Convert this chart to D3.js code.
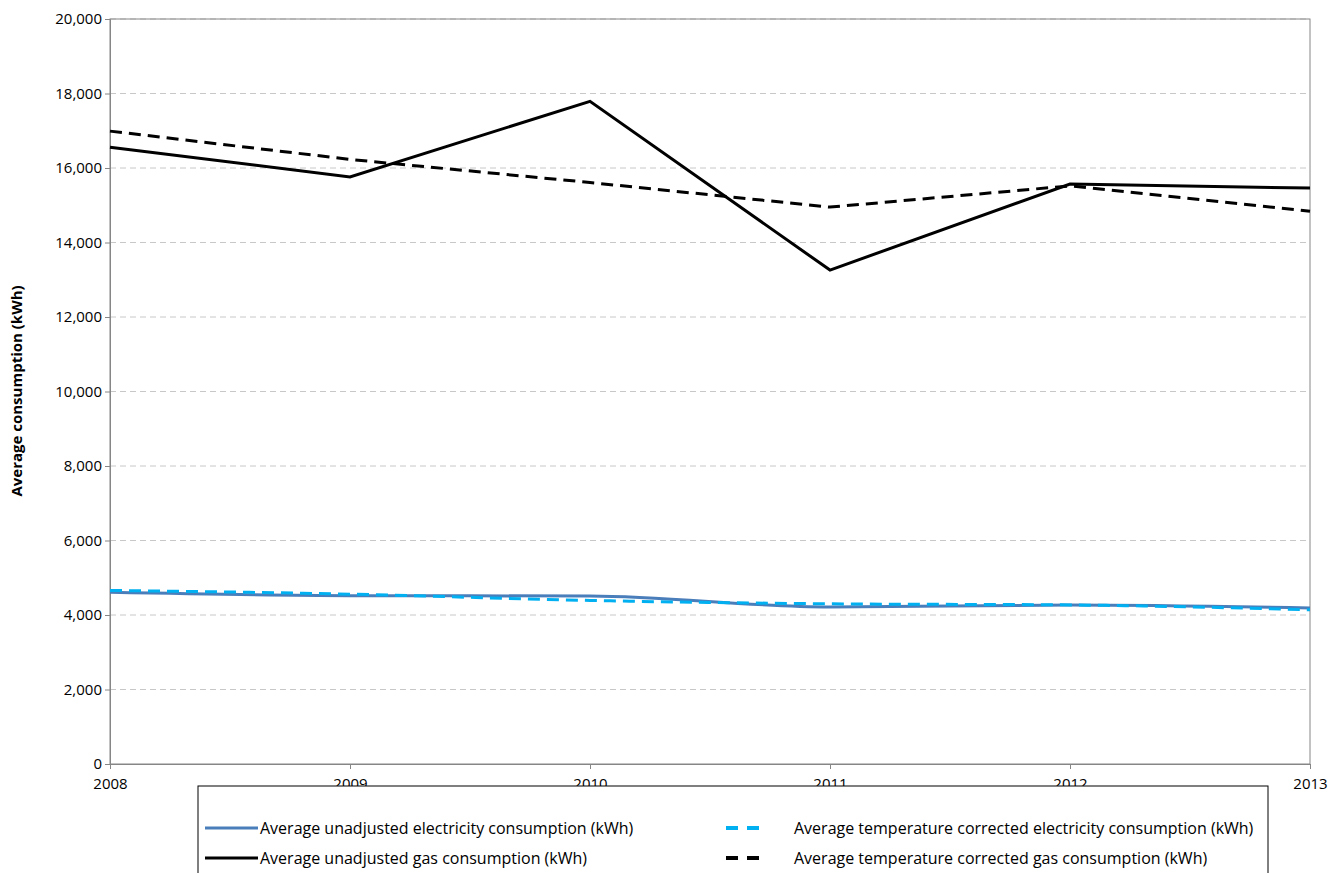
<!DOCTYPE html>
<html><head><meta charset="utf-8">
<script src="https://cdn.jsdelivr.net/npm/d3@7"></script>
<style>body{margin:0;background:#fff;font-family:"Open Sans",Arial,sans-serif;}</style>
</head><body><svg id="chart" width="1341" height="873"></svg>
<script>
var years = [2008, 2009, 2010, 2011, 2012, 2013];
var elecUnadjusted = [4610, 4520, 4510, 4215, 4270, 4190];
var elecCorrected = [4660, 4560, 4390, 4300, 4270, 4140];
var gasUnadjusted = [16560, 15760, 17790, 13260, 15570, 15460];
var gasCorrected = [16990, 16230, 15610, 14950, 15520, 14840];
var yTicks = d3.range(0, 20001, 2000);

var svg = d3.select("#chart");
var x = d3.scaleLinear().domain([2008, 2013]).range([110, 1310]);
var y = d3.scaleLinear().domain([0, 20000]).range([764, 19]);

// gridlines
svg.append("g").selectAll("line").data(yTicks.slice(1)).join("line")
  .attr("x1", 110).attr("x2", 1310).attr("y1", d => y(d)).attr("y2", d => y(d))
  .attr("stroke", "#c8c8c8").attr("stroke-dasharray", "6,4");
svg.append("rect").attr("x", 110).attr("y", 19).attr("width", 1200).attr("height", 745)
  .attr("fill", "none").attr("stroke", "#868686");

var yAxis = svg.append("g").attr("transform", "translate(110,0)")
  .call(d3.axisLeft(y).tickValues(yTicks).tickFormat(d3.format(",")).tickSize(5));
var xAxis = svg.append("g").attr("transform", "translate(0,764)")
  .call(d3.axisBottom(x).tickValues(years).tickFormat(d3.format("d")).tickSize(5));
[yAxis, xAxis].forEach(a => {
  a.select(".domain").attr("stroke", "#868686");
  a.selectAll(".tick line").attr("stroke", "#868686");
  a.selectAll("text").attr("font-size", 15).attr("fill", "#000")
    .attr("font-family", "'Open Sans',Arial,sans-serif");
});
xAxis.selectAll("text").attr("dy", "1.1em");

svg.append("text").attr("transform", "translate(22,391) rotate(-90)")
  .attr("text-anchor", "middle").attr("font-size", 15).attr("font-weight", "bold")
  .text("Average consumption (kWh)");

var series = [
  {name: "Average unadjusted electricity consumption (kWh)", values: elecUnadjusted, color: "#4a7ebb", dash: null, curve: d3.curveMonotoneX},
  {name: "Average temperature corrected electricity consumption (kWh)", values: elecCorrected, color: "#00b0f0", dash: "12,7", curve: d3.curveMonotoneX},
  {name: "Average unadjusted gas consumption (kWh)", values: gasUnadjusted, color: "#000", dash: null, curve: d3.curveLinear},
  {name: "Average temperature corrected gas consumption (kWh)", values: gasCorrected, color: "#000", dash: "12,7", curve: d3.curveLinear}
];

series.forEach(s => {
  var line = d3.line().x((d, i) => x(years[i])).y(d => y(d)).curve(s.curve);
  svg.append("path").datum(s.values).attr("d", line).attr("fill", "none")
    .attr("stroke", s.color).attr("stroke-width", 3).attr("stroke-dasharray", s.dash);
});

// legend
svg.append("rect").attr("x", 198).attr("y", 786).attr("width", 1070).attr("height", 100)
  .attr("fill", "#fff").attr("stroke", "#000");
var legPos = [[205, 828], [722, 828], [205, 858], [722, 858]];
series.forEach((s, i) => {
  var p = legPos[i];
  var g = svg.append("g").attr("transform", "translate(" + p[0] + "," + p[1] + ")");
  if (s.dash) {
    g.append("line").attr("x1", 4).attr("x2", 46).attr("stroke", s.color).attr("stroke-width", 4).attr("stroke-dasharray", "12,9");
    g.append("text").attr("x", 72).attr("dy", "0.35em").attr("font-size", 16).text(s.name);
  } else {
    g.append("line").attr("x1", 0).attr("x2", 53).attr("stroke", s.color).attr("stroke-width", 3);
    g.append("text").attr("x", 55).attr("dy", "0.35em").attr("font-size", 16).text(s.name);
  }
});
</script></body></html>
